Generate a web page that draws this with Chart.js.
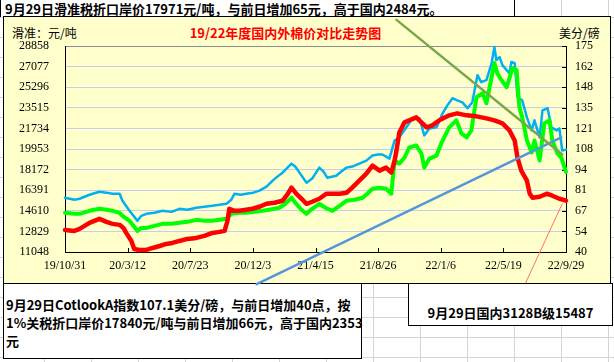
<!DOCTYPE html>
<html>
<head>
<meta charset="utf-8">
<script src="https://cdn.jsdelivr.net/npm/chart.js@4/dist/chart.umd.min.js"></script>
<style>
  html, body { margin: 0; padding: 0; }
  body {
    width: 614px; height: 362px; position: relative; overflow: hidden;
    background-color: #fff;
    background-image:
      linear-gradient(to right, #d4d4d4 1px, transparent 1px),
      linear-gradient(to bottom, #d4d4d4 1px, transparent 1px);
    background-size: 47px 100%, 100% 20px;
    background-position: 44px 0, 0 17px;
    font-family: "Noto Sans CJK SC", sans-serif;
  }
  .abs { position: absolute; white-space: nowrap; }
  #topcell {
    left: 0; top: 0; width: 515px; height: 17px; box-sizing: border-box;
    background: #fff; border-left: 1px solid #000; border-right: 1px solid #000;
    font-weight: bold; font-size: 13px; line-height: 17px; padding-left: 4px;
  }
  #chartbox {
    left: 3px; top: 16px; width: 608px; height: 268px; box-sizing: border-box;
    background: #ffffcc; border: 1px solid #000;
  }
  #unitL { left: 12px; top: 26px; font-size: 12px; line-height: 14px; }
  #unitR { left: 559px; top: 26px; font-size: 12px; line-height: 14px; }
  #title { left: 185px; width: 201px; top: 26px; text-align: center; color: #ff0000;
    font-weight: bold; font-size: 13px; line-height: 14px; }
  #noteL {
    left: 3px; top: 283px; width: 359px; height: 76px; box-sizing: border-box;
    background: #fff; border: 1px solid #000; padding: 12px 0 0 2px;
    font-weight: bold; font-size: 13px; line-height: 18px;
  }
  #noteR {
    left: 408px; top: 283px; width: 205px; height: 43px; box-sizing: border-box;
    background: #fff; border: 1px solid #000; padding-top: 20px; text-align: center;
    font-weight: bold; font-size: 13px; line-height: 18px;
  }
  canvas { position: absolute; left: 0; top: 0; }
</style>
</head>
<body>
<div id="topcell" class="abs">9月29日滑准税折口岸价17971元/吨，与前日增加65元，高于国内2484元。</div>
<div id="chartbox" class="abs"></div>
<div id="noteL" class="abs">9月29日CotlookA指数107.1美分/磅，与前日增加40点，按<br>1%关税折口岸价17840元/吨与前日增加66元，高于国内2353<br>元</div>
<div id="noteR" class="abs">9月29日国内3128B级15487</div>
<div id="unitL" class="abs">滑准：元/吨</div>
<div id="title" class="abs">19/22年度国内外棉价对比走势图</div>
<div id="unitR" class="abs">美分/磅</div>
<canvas id="chart" width="614" height="362"></canvas>

<script>
// days counted from 2019-10-31
const xTickDays = [0, 133, 266, 399, 532, 665, 798, 931, 1064];
const xTickLabels = ['19/10/31', '20/3/12', '20/7/23', '20/12/3', '21/4/15', '21/8/26', '22/1/6', '22/5/19', '22/9/29'];

const leftTicks = [11048, 12829, 14610, 16391, 18172, 19953, 21734, 23515, 25296, 27077, 28858];
const rightTicks = [40, 54, 67, 81, 94, 108, 121, 135, 148, 162, 175];

// Cotlook A index, cents/lb (right axis)
const cotlookDays = [0, 20, 31, 52, 73, 88, 101, 116, 122, 137, 154, 162, 173, 190, 207, 226, 243, 260, 279, 296,
  313, 328, 343, 353, 360, 373, 385, 400, 413, 428, 441, 451, 462, 481, 489, 498, 513, 525, 540, 549,
  557, 576, 587, 598, 610, 625, 640, 653, 664, 674, 689, 700, 710, 725, 738, 753, 763, 774, 789, 802,
  812, 823, 833, 844, 855, 865, 876, 884, 895, 906, 912, 916, 923, 929, 938, 944, 948, 955, 961, 971,
  981, 991, 997, 1008, 1014, 1025, 1033, 1044, 1050, 1056, 1064];
const cotlookValues = [75.6, 74.2, 74.9, 77.5, 79.5, 78.9, 78.2, 78.2, 73.6, 67.0, 60.4, 63.7, 65.0, 65.7, 67.0, 66.3, 68.3, 67.7, 69.0, 69.6,
  70.3, 70.9, 71.6, 74.2, 78.2, 77.5, 78.2, 78.9, 80.2, 82.8, 86.8, 89.4, 92.0, 97.9, 96.0, 92.0, 85.4, 88.1, 95.3, 92.7,
  88.7, 90.0, 92.7, 95.3, 96.0, 97.9, 99.9, 103.2, 103.9, 103.9, 101.2, 113.1, 115.1, 121.7, 127.6, 127.6, 116.4, 121.0, 121.7, 130.9,
  136.1, 140.8, 139.4, 138.1, 134.2, 138.1, 155.9, 151.3, 152.6, 163.8, 174.3, 165.8, 167.7, 162.5, 159.2, 157.2, 164.5, 163.8, 141.4, 139.4,
  128.2, 119.7, 126.3, 115.1, 132.8, 134.2, 121.7, 119.7, 121.0, 106.5, 107.1];

// sliding-scale duty landed price, yuan/t (left axis)
const huaDays = [0, 20, 31, 52, 73, 88, 101, 116, 122, 137, 154, 162, 173, 190, 207, 226, 243, 260, 279, 296,
  313, 328, 343, 353, 370, 385, 402, 419, 434, 455, 468, 481, 491, 502, 513, 525, 540, 553, 568, 583,
  598, 615, 632, 642, 653, 668, 682, 693, 700, 710, 721, 731, 746, 757, 763, 774, 789, 799, 816, 831,
  842, 853, 863, 874, 887, 895, 906, 912, 918, 927, 938, 944, 950, 959, 965, 971, 981, 991, 997, 1008,
  1018, 1029, 1035, 1046, 1054, 1064];
const huaValues = [14436, 14349, 14349, 14610, 14784, 14697, 14610, 14436, 14176, 13741, 12872, 13133, 13133, 13307, 13481, 13481, 13568, 13654, 13828, 13741,
  13741, 13828, 13915, 14349, 14436, 14436, 14523, 14610, 14697, 14871, 15218, 15740, 15218, 14697, 14349, 14784, 15218, 14871, 14610, 15044,
  15479, 15566, 15740, 16087, 16521, 16608, 16521, 16087, 18954, 18693, 19215, 20084, 20257, 19562, 18346, 19128, 19388, 20431, 21821, 22429,
  21300, 20952, 21560, 24428, 24775, 23906, 26165, 27381, 26513, 25904, 25296, 26078, 26947, 26773, 23559, 22690, 20692, 19649, 20692, 18954,
  22169, 22429, 20692, 19562, 19215, 17971];

// domestic 3128B, yuan/t (left axis)
const domDays = [0, 20, 31, 52, 73, 88, 101, 116, 124, 130, 141, 147, 158, 173, 186, 201, 215, 228, 243, 260,
  279, 296, 313, 328, 339, 345, 349, 360, 370, 385, 398, 413, 428, 445, 462, 472, 481, 491, 502, 513,
  525, 540, 555, 568, 583, 598, 610, 625, 640, 653, 668, 682, 693, 700, 704, 710, 721, 731, 746, 757,
  768, 780, 795, 816, 833, 853, 874, 895, 912, 929, 944, 955, 961, 969, 981, 987, 993, 1008, 1023, 1035,
  1050, 1064];
const domValues = [12959, 12872, 13046, 13568, 13915, 13654, 13481, 13394, 13133, 12699, 12004, 11309, 11222, 11222, 11396, 11569, 11743, 11830, 12004, 12177,
  12264, 12438, 12699, 12786, 12872, 13741, 14784, 14610, 14610, 14697, 14784, 14958, 15218, 15305, 15479, 16000, 16608, 16087, 15653, 15218,
  15392, 15653, 16087, 16087, 16087, 16174, 16608, 17216, 17825, 18520, 18085, 18346, 17912, 18954, 19823, 21387, 22256, 22429, 22690, 22256,
  21821, 21995, 22429, 22864, 23037, 22864, 22777, 22603, 22429, 22169, 21560, 20692, 19215, 18085, 17216, 16087, 15740, 15826, 16087, 15913,
  15653, 15487];

// callout leader lines (left axis units, running past the plot area)
const leadHuaDays = [704, 1056];
const leadHuaValues = [31117, 19475];
const leadCotDays = [407, 1054];
const leadCotValues = [8268, 20952];
const leadDomDays = [978, 1056];
const leadDomValues = [8355, 15218];

const pts = (days, vals) => days.map((d, i) => ({ x: d, y: vals[i] }));

const innerTicks = {
  id: 'innerTicks',
  beforeDatasetsDraw(chart) {
    const { ctx, chartArea, scales } = chart;
    ctx.save();
    ctx.strokeStyle = '#000';
    ctx.lineWidth = 1;
    ctx.beginPath();
    scales.x.ticks.forEach(t => {
      const px = Math.round(scales.x.getPixelForValue(t.value)) + 0.5;
      ctx.moveTo(px, chartArea.bottom);
      ctx.lineTo(px, chartArea.bottom - 4);
    });
    scales.yR.ticks.forEach(t => {
      const py = Math.round(scales.yR.getPixelForValue(t.value)) + 0.5;
      ctx.moveTo(chartArea.right, py);
      ctx.lineTo(chartArea.right - 4, py);
    });
    ctx.stroke();
    ctx.restore();
  }
};

const tickFont = { family: "'Liberation Serif', 'Times New Roman', serif", size: 12 };

const line = (data, color, width, axis, order) => ({
  data, borderColor: color, borderWidth: width, yAxisID: axis, order,
  pointRadius: 0, tension: 0, clip: false, borderJoinStyle: 'round', borderCapStyle: 'round', fill: false
});

new Chart(document.getElementById('chart'), {
  type: 'line',
  data: {
    datasets: [
      line(pts(leadHuaDays, leadHuaValues), '#76a84a', 2.5, 'yL', 0),
      line(pts(leadCotDays, leadCotValues), '#5596db', 2.5, 'yL', 0),
      line(pts(leadDomDays, leadDomValues), '#ff7070', 1, 'yL', 0),
      line(pts(domDays, domValues), '#ff0000', 4.5, 'yL', 1),
      line(pts(huaDays, huaValues), '#00ff00', 4, 'yL', 2),
      line(pts(cotlookDays, cotlookValues), '#00b0f0', 2.5, 'yR', 3)
    ]
  },
  options: {
    responsive: false,
    animation: false,
    devicePixelRatio: 1,
    layout: { padding: { top: 46, left: 0, right: 0, bottom: 0 } },
    plugins: { legend: { display: false }, tooltip: { enabled: false } },
    scales: {
      x: {
        type: 'linear', min: 0, max: 1064,
        afterBuildTicks: s => { s.ticks = xTickDays.map(v => ({ value: v })); },
        afterFit: s => { s.height = 110; },
        ticks: { callback: (v, i) => xTickLabels[i], maxRotation: 0, autoSkip: false, padding: 7, color: '#000', font: tickFont },
        grid: { display: false, drawTicks: false },
        border: { display: true, color: '#000', width: 1 }
      },
      yL: {
        position: 'left', min: 11048, max: 28858,
        afterBuildTicks: s => { s.ticks = leftTicks.map(v => ({ value: v })); },
        afterFit: s => { s.width = 65; },
        ticks: { callback: (v, i) => String(leftTicks[i]), padding: 16, color: '#000', font: tickFont },
        grid: { drawTicks: false, color: c => (c.index === leftTicks.length - 1 ? '#8c8c8c' : '#c8cdf0'), lineWidth: 1 },
        border: { display: true, color: '#000', width: 1 }
      },
      yR: {
        position: 'right', min: 40, max: 175,
        afterBuildTicks: s => { s.ticks = rightTicks.map((v, i) => ({ value: 40 + i * 13.5 })); },
        afterFit: s => { s.width = 48; },
        ticks: { callback: (v, i) => String(rightTicks[i]), padding: 9, color: '#000', font: tickFont },
        grid: { display: false, drawTicks: false },
        border: { display: true, color: '#000', width: 1 }
      }
    }
  },
  plugins: [innerTicks]
});
</script>
</body>
</html>
